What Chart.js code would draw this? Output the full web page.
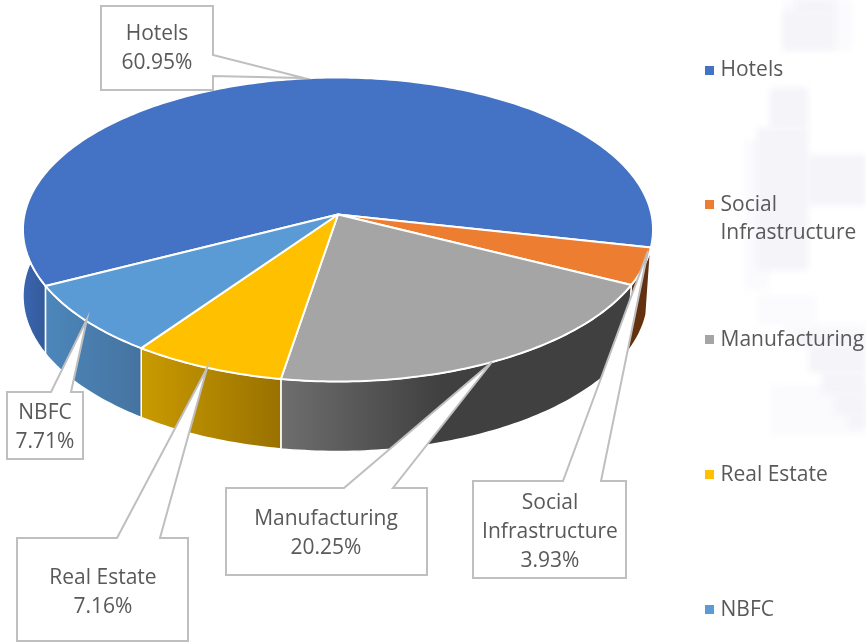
<!DOCTYPE html>
<html>
<head>
<meta charset="utf-8">
<script src="https://cdn.jsdelivr.net/npm/chart.js@4/dist/chart.umd.min.js"></script>
<style>
html,body{margin:0;padding:0;background:#fff;overflow:hidden;width:866px;height:643px}
#wrap{width:866px;height:643px;overflow:hidden}
canvas{display:block}
</style>
</head>
<body>
<div id="wrap"><canvas id="c" width="866" height="720"></canvas></div>
<script>
const categories = ['Hotels', 'Social Infrastructure', 'Manufacturing', 'Real Estate', 'NBFC'];
const shares = [60.95, 3.93, 20.25, 7.16, 7.71];
const legendLines = [['Hotels', ''], ['Social', 'Infrastructure'], ['Manufacturing', ''], ['Real Estate', ''], ['NBFC', '']];
const calloutLines = [['Hotels'], ['Social', 'Infrastructure'], ['Manufacturing'], ['Real Estate'], ['NBFC']];

const topColors = ['#4472C4', '#ED7D31', '#A5A5A5', '#FFC000', '#5B9BD5'];
const wallFrom = ['#3A66B0', '#63310F', '#6E6E6E', '#C99A00', '#4C86BA'];
const wallTo = ['#325795', '#63310F', '#404040', '#997100', '#4573A0'];
const wallGradX = [[23, 50], [630, 655], [281, 440], [142, 281], [47, 142]];

// callout geometry: box [left, top, right, bottom], side of the pointer, pointer base, pointer tip
const boxes = [[101, 6, 213, 90], [473, 481, 626, 578], [226, 488, 427, 575], [17, 538, 188, 641], [7, 392, 83, 459]];
const sides = ['right', 'top', 'top', 'top', 'top'];
const bases = [[55, 76], [563, 601], [344, 393], [117, 160], [51, 71]];
const tips = [[304, 78], [648, 251], [492, 362], [207, 368], [87, 319]];
const textCenters = [157, 550, 326, 103, 45];
const textFirstY = [34, 503, 519, 578, 413];

// projection of the pie disc
const CX = 338, CY = 214.5, RX = 313.5, RY = 150.5, PERSP = 0.0987;
const D2R = Math.PI / 180;

function project(a, low) {
  const u = Math.cos(a), v = Math.sin(a), w = 1 - PERSP * v;
  let x = CX + RX * u / w, y = CY + RY * v / w;
  if (low) {
    if (u > 0) x = CX + (x - CX) * 0.985;
    y += 66 + 4 * v;
  }
  return [x, y];
}

const paleBlocks = [
  [744,140,26,150],[783,322,83,12],[770,385,96,50],[783,0,70,50],[757,295,60,30]
];
const watermark = [
  [796,0,39,14],[783,12,52,38],[770,88,38,40],[757,128,51,142],[808,155,58,50],
  [796,332,70,14],[809,346,57,26],[822,372,44,22],[835,394,31,20],[848,414,18,14]
];

const pie3d = {
  id: 'pie3d',
  beforeDraw(chart) {
    const ctx = chart.ctx;
    ctx.save();
    ctx.fillStyle = '#fff';
    ctx.fillRect(0, 0, chart.width, chart.height);
    ctx.filter = 'blur(3px)';
    ctx.fillStyle = '#FBFBFD';
    paleBlocks.forEach(r => ctx.fillRect(r[0], r[1], r[2], r[3]));
    ctx.fillStyle = '#F4F4F9';
    watermark.forEach(r => ctx.fillRect(r[0], r[1], r[2], r[3]));
    ctx.restore();
  },
  afterLayout(chart) {
    const lg = chart.legend;
    const pad = lg.options.labels.padding;
    lg.left = 709 - pad;
    lg.right = 866;
    lg.top = 59.5 - pad;
  },
  beforeDatasetDraw(chart) {
    const ctx = chart.ctx;
    const arcs = chart.getDatasetMeta(0).data;
    ctx.save();
    ctx.lineJoin = 'round';
    ctx.strokeStyle = '#fff';
    // walls: only the part of each slice that faces the viewer
    arcs.forEach((arc, i) => {
      const p = arc.getProps(['startAngle', 'endAngle'], true);
      [[-25, 215], [335, 575]].forEach(win => {
        const a0 = Math.max(p.startAngle, win[0] * D2R);
        const a1 = Math.min(p.endAngle, win[1] * D2R);
        if (a1 <= a0) return;
        const g = ctx.createLinearGradient(wallGradX[i][0], 0, wallGradX[i][1], 0);
        g.addColorStop(0, wallFrom[i]);
        g.addColorStop(1, wallTo[i]);
        ctx.beginPath();
        const steps = Math.max(2, Math.ceil((a1 - a0) / D2R));
        for (let s = 0; s <= steps; s++) {
          const q = project(a0 + (a1 - a0) * s / steps, false);
          s ? ctx.lineTo(q[0], q[1]) : ctx.moveTo(q[0], q[1]);
        }
        for (let s = steps; s >= 0; s--) {
          const q = project(a0 + (a1 - a0) * s / steps, true);
          ctx.lineTo(q[0], q[1]);
        }
        ctx.closePath();
        ctx.fillStyle = g;
        ctx.fill();
        ctx.lineWidth = 1.5;
        ctx.stroke();
      });
    });
    // top faces
    arcs.forEach((arc, i) => {
      const p = arc.getProps(['startAngle', 'endAngle'], true);
      const steps = Math.ceil((p.endAngle - p.startAngle) / D2R);
      ctx.beginPath();
      ctx.moveTo(CX, CY);
      for (let s = 0; s <= steps; s++) {
        const q = project(p.startAngle + (p.endAngle - p.startAngle) * s / steps, false);
        ctx.lineTo(q[0], q[1]);
      }
      ctx.closePath();
      ctx.fillStyle = topColors[i];
      ctx.fill();
      ctx.lineWidth = 2;
      ctx.stroke();
    });
    ctx.restore();
    return false;
  },
  afterDatasetsDraw(chart) {
    const ctx = chart.ctx;
    ctx.save();
    boxes.forEach((b, i) => {
      const [l, t, r, bt] = b, [m, n] = bases[i], tip = tips[i];
      ctx.beginPath();
      ctx.moveTo(l, t);
      if (sides[i] === 'top') {
        ctx.lineTo(m, t); ctx.lineTo(tip[0], tip[1]); ctx.lineTo(n, t);
        ctx.lineTo(r, t); ctx.lineTo(r, bt);
      } else {
        ctx.lineTo(r, t); ctx.lineTo(r, m); ctx.lineTo(tip[0], tip[1]); ctx.lineTo(r, n);
        ctx.lineTo(r, bt);
      }
      ctx.lineTo(l, bt);
      ctx.closePath();
      ctx.fillStyle = '#fff';
      ctx.fill();
      ctx.strokeStyle = '#BFBFBF';
      ctx.lineWidth = 2;
      ctx.lineJoin = 'miter';
      ctx.stroke();
      ctx.fillStyle = '#595959';
      ctx.font = '21px "Open Sans"';
      ctx.textAlign = 'center';
      ctx.textBaseline = 'middle';
      const lines = calloutLines[i].concat([shares[i].toFixed(2) + '%']);
      lines.forEach((ln, j) => ctx.fillText(ln, textCenters[i], textFirstY[i] + j * 29));
    });
    ctx.restore();
  }
};

function squareIcon(color) {
  const c = document.createElement('canvas');
  c.width = 9; c.height = 9;
  const x = c.getContext('2d');
  x.fillStyle = color;
  x.fillRect(0, 0, 9, 9);
  return c;
}

new Chart(document.getElementById('c'), {
  type: 'pie',
  data: {
    labels: categories,
    datasets: [{ data: shares, backgroundColor: topColors, borderColor: '#fff', borderWidth: 2 }]
  },
  options: {
    responsive: false,
    devicePixelRatio: 1,
    animation: false,
    rotation: 243,
    events: [],
    plugins: {
      tooltip: { enabled: false },
      legend: {
        position: 'right',
        align: 'start',
        labels: {
          color: '#595959',
          font: { family: '"Open Sans"', size: 21, lineHeight: 1.3333 },
          padding: 79,
          usePointStyle: true,
          pointStyleWidth: 1,
          boxHeight: 9,
          generateLabels: () => legendLines.map((t, i) => ({
            text: t,
            fillStyle: topColors[i],
            strokeStyle: topColors[i],
            lineWidth: 0,
            pointStyle: squareIcon(topColors[i]),
            index: i,
            fontColor: '#595959'
          }))
        }
      }
    }
  },
  plugins: [pie3d]
});
</script>
</body>
</html>
